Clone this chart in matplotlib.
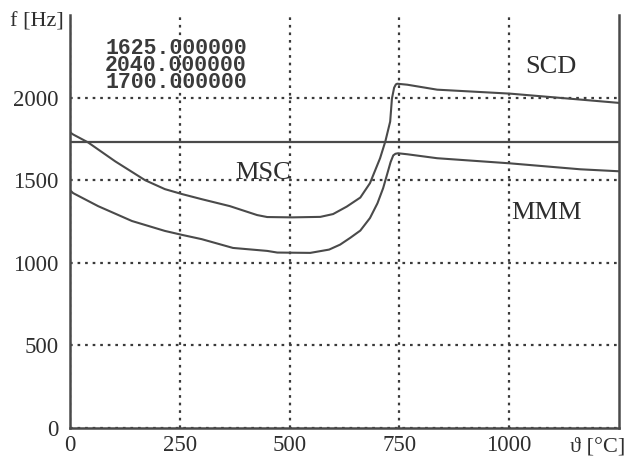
import matplotlib
matplotlib.use("Agg")
import matplotlib.pyplot as plt

# ---- data ----
msc_x = [0, 7, 41, 103, 171, 216, 255, 300, 364, 426, 449, 506, 570, 599, 630, 661, 683, 706, 718, 729, 733, 738, 742, 745, 768, 836, 1002, 1162, 1250]
msc_y = [1790, 1777, 1729, 1614, 1500, 1446, 1416, 1385, 1343, 1289, 1277, 1275, 1278, 1295, 1340, 1395, 1482, 1633, 1735, 1855, 1994, 2060, 2080, 2084, 2078, 2048, 2024, 1988, 1968]

mmm_x = [0, 7, 64, 141, 216, 255, 300, 371, 449, 472, 547, 590, 615, 638, 661, 683, 700, 713, 724, 730, 736, 741, 747, 768, 836, 1002, 1162, 1250]
mmm_y = [1440, 1422, 1343, 1253, 1193, 1169, 1143, 1090, 1072, 1062, 1060, 1080, 1110, 1151, 1195, 1271, 1360, 1452, 1554, 1610, 1650, 1660, 1663, 1657, 1633, 1602, 1566, 1554]

level_y = 1730
values_text = ["1625.000000", "2040.000000", "1700.000000"]

x_ticks = [0, 250, 500, 750, 1000]
y_ticks = [0, 500, 1000, 1500, 2000]
x_lim = (0, 1250)
y_lim = (0, 2500)

curve_labels = ["MSC", "SCD", "MMM"]
label_pos = [(440, 1542), (1096, 2187), (1084, 1301)]

# ---- figure ----
W, H = 627, 458
fig = plt.figure(figsize=(W / 100, H / 100), dpi=100)
fig.patch.set_facecolor("white")
ax = fig.add_axes([70 / W, 1 - 428 / H, (619 - 70) / W, (428 - 15) / H])
ax.set_facecolor("white")

line_col = "#4a4a4a"
text_col = "#2e2e2e"
serif = ["Liberation Serif", "DejaVu Serif"]

ax.set_xlim(*x_lim)
ax.set_ylim(*y_lim)
ax.set_xticks(x_ticks)
ax.set_yticks(y_ticks)
ax.tick_params(length=0, labelsize=16.5, colors=text_col, pad=8)
for lab in ax.get_xticklabels() + ax.get_yticklabels():
    lab.set_fontfamily(serif)
ax.tick_params(axis="x", pad=5)

ax.grid(True, color="#3a3a3a", linestyle=(0, (1.2, 2.2)), linewidth=1.6)
ax.set_axisbelow(True)

for s in ["left", "right", "bottom"]:
    ax.spines[s].set_color(line_col)
    ax.spines[s].set_linewidth(1.8)
ax.spines["top"].set_visible(False)

ax.axhline(level_y, color=line_col, linewidth=1.6)
ax.plot(msc_x, msc_y, color=line_col, linewidth=1.5, solid_joinstyle="round")
ax.plot(mmm_x, mmm_y, color=line_col, linewidth=1.5, solid_joinstyle="round")

for t, (tx, ty) in zip(curve_labels, label_pos):
    ax.text(tx, ty, t, fontsize=19, family=serif, color=text_col,
            ha="center", va="center")

fig.text(176 / W, 1 - 65.5 / H, "\n".join(values_text), fontsize=15.5,
         family=["Liberation Mono", "DejaVu Sans Mono"], fontweight="bold",
         color="#3a3a3a", ha="center", va="center", linespacing=0.72,
         multialignment="center")

fig.text(10 / W, 1 - 22 / H, "f [Hz]", fontsize=16, family=serif, color=text_col,
         ha="left", va="center")
fig.text(570 / W, 1 - 447 / H, "ϑ [°C]", fontsize=16, family=serif, color=text_col,
         ha="left", va="center")

fig.savefig("out.png", dpi=100, facecolor="white")
